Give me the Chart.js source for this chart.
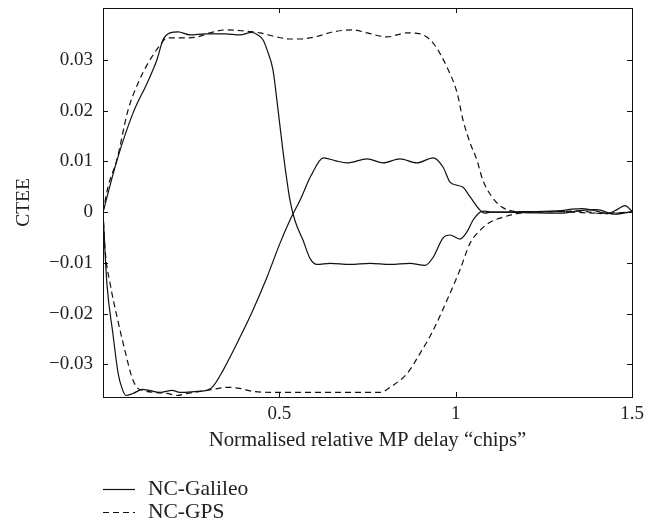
<!DOCTYPE html>
<html>
<head>
<meta charset="utf-8">
<script src="https://cdn.jsdelivr.net/npm/chart.js@4/dist/chart.umd.min.js"></script>
<style>
  html, body { margin: 0; padding: 0; background: #fff; }
  #wrap { width: 645px; height: 531px; position: relative; }
</style>
</head>
<body>
<div id="wrap"><canvas id="c"></canvas></div>
<script>
// ---- data ----
const xTicks = [0.5, 1, 1.5];
const yTicks = [-0.03, -0.02, -0.01, 0, 0.01, 0.02, 0.03];
const seriesNames = ['NC-Galileo', 'NC-GPS'];

// NC-Galileo, in-phase branch (starts positive)
const galUpX = [0, 0.040, 0.085, 0.125, 0.153, 0.170, 0.190, 0.213, 0.247, 0.289, 0.346, 0.388, 0.422, 0.439, 0.454, 0.465, 0.482, 0.493, 0.510, 0.530, 0.544, 0.567, 0.587, 0.607, 0.644, 0.700, 0.757, 0.814, 0.870, 0.913, 0.936, 0.964, 0.984, 1.012, 1.032, 1.049, 1.069, 1.083, 1.10, 1.2, 1.3, 1.33, 1.36, 1.40, 1.43, 1.46, 1.48, 1.5];
const galUpY = [0, 0.0103, 0.0195, 0.0254, 0.0300, 0.0339, 0.0353, 0.0355, 0.0349, 0.0351, 0.0351, 0.0349, 0.0354, 0.0349, 0.0339, 0.0320, 0.0280, 0.0221, 0.0122, 0.0024, -0.0016, -0.0055, -0.0091, -0.0103, -0.0101, -0.0103, -0.0101, -0.0103, -0.0101, -0.0105, -0.0089, -0.0051, -0.0045, -0.0053, -0.0039, -0.0016, 0, 0.0002, 0, 0.0001, 0.0003, 0.0006, 0.0007, 0.0002, -0.0003, 0.0006, 0.0013, 0.0002];

// NC-Galileo, anti-phase branch (starts negative)
const galLoX = [0, 0.011, 0.028, 0.043, 0.054, 0.065, 0.085, 0.113, 0.162, 0.196, 0.218, 0.267, 0.295, 0.312, 0.340, 0.388, 0.425, 0.465, 0.502, 0.530, 0.559, 0.590, 0.625, 0.660, 0.692, 0.749, 0.794, 0.842, 0.890, 0.936, 0.964, 0.984, 1.004, 1.021, 1.041, 1.069, 1.083, 1.10, 1.2, 1.3, 1.35, 1.40, 1.45, 1.5];
const galLoY = [0, -0.0140, -0.0239, -0.0318, -0.0347, -0.0361, -0.0357, -0.0349, -0.0355, -0.0351, -0.0355, -0.0353, -0.0351, -0.0343, -0.0312, -0.0247, -0.0193, -0.0128, -0.0061, -0.0016, 0.0024, 0.0072, 0.0107, 0.0101, 0.0097, 0.0105, 0.0097, 0.0105, 0.0097, 0.0107, 0.0089, 0.0059, 0.0053, 0.0049, 0.0030, 0.0004, -0.0002, 0, -0.0001, -0.0002, 0.0003, 0.0005, -0.0004, 0.0001];

// NC-GPS, in-phase branch
const gpsUpX = [0, 0.014, 0.040, 0.071, 0.100, 0.125, 0.162, 0.181, 0.210, 0.238, 0.267, 0.303, 0.352, 0.397, 0.445, 0.493, 0.530, 0.559, 0.601, 0.652, 0.709, 0.749, 0.805, 0.862, 0.899, 0.936, 0.975, 1.004, 1.021, 1.041, 1.060, 1.077, 1.103, 1.131, 1.162, 1.2, 1.3, 1.4, 1.5];
const gpsUpY = [0, 0.0049, 0.0105, 0.0201, 0.0255, 0.0290, 0.0329, 0.0343, 0.0343, 0.0343, 0.0345, 0.0353, 0.0359, 0.0357, 0.0353, 0.0345, 0.0341, 0.0341, 0.0345, 0.0355, 0.0359, 0.0353, 0.0345, 0.0353, 0.0351, 0.0333, 0.0286, 0.0235, 0.0181, 0.0136, 0.0103, 0.0063, 0.0030, 0.0010, 0.0002, 0, 0.0001, -0.0002, 0];

// NC-GPS, anti-phase branch
const gpsLoX = [0, 0.006, 0.020, 0.040, 0.062, 0.082, 0.096, 0.113, 0.147, 0.181, 0.210, 0.238, 0.275, 0.312, 0.352, 0.388, 0.425, 0.502, 0.615, 0.729, 0.785, 0.822, 0.862, 0.899, 0.936, 0.975, 1.012, 1.041, 1.069, 1.097, 1.134, 1.182, 1.24, 1.35, 1.42, 1.5];
const gpsLoY = [0, -0.0075, -0.0140, -0.0207, -0.0272, -0.0325, -0.0345, -0.0351, -0.0355, -0.0357, -0.0361, -0.0357, -0.0353, -0.0349, -0.0345, -0.0347, -0.0353, -0.0355, -0.0355, -0.0355, -0.0355, -0.0341, -0.0318, -0.0278, -0.0233, -0.0174, -0.0114, -0.0061, -0.0036, -0.0020, -0.0010, -0.0002, 0, 0.0002, -0.0003, 0];

const xMin = 0, xMax = 1.5;
const yMin = -0.0364, yMax = 0.0402;

// ---- build ----
const pts = (xs, ys) => xs.map((x, i) => ({ x: x, y: ys[i] }));
const FONT = "'Liberation Serif', 'Times New Roman', serif";
const TXT = '#222';
const dashGPS = [6, 4];

function ds(label, xs, ys, dash, inLegend) {
  return {
    label: label,
    data: pts(xs, ys),
    borderColor: '#111',
    borderWidth: 1.2,
    borderDash: dash,
    pointRadius: 0,
    fill: false,
    cubicInterpolationMode: 'monotone',
    inLegend: inLegend
  };
}

function noPad(s) {
  s.paddingTop = 0; s.paddingBottom = 0; s.paddingLeft = 0; s.paddingRight = 0;
}

const framePlugin = {
  id: 'frame',
  afterDatasetsDraw(chart) {
    const { ctx, chartArea: a, scales } = chart;
    ctx.save();
    ctx.strokeStyle = '#111';
    ctx.lineWidth = 1;
    ctx.strokeRect(Math.round(a.left) + 0.5, Math.round(a.top) + 0.5,
                   Math.round(a.right - a.left), Math.round(a.bottom - a.top));
    const L = 5;
    ctx.beginPath();
    xTicks.forEach(v => {
      const px = Math.round(scales.x.getPixelForValue(v)) + 0.5;
      ctx.moveTo(px, a.bottom); ctx.lineTo(px, a.bottom - L);
      ctx.moveTo(px, a.top); ctx.lineTo(px, a.top + L);
    });
    yTicks.forEach(v => {
      const py = Math.round(scales.y.getPixelForValue(v)) + 0.5;
      ctx.moveTo(a.left, py); ctx.lineTo(a.left + L, py);
      ctx.moveTo(a.right, py); ctx.lineTo(a.right - L, py);
    });
    ctx.stroke();
    ctx.restore();
  },
  afterDraw(chart) {
    const { ctx, chartArea: a } = chart;
    const items = chart.data.datasets.filter(d => d.inLegend);
    ctx.save();
    ctx.font = '21.5px ' + FONT;
    ctx.fillStyle = TXT;
    ctx.textBaseline = 'middle';
    items.forEach((d, i) => {
      const y = 489 + i * 23;
      ctx.strokeStyle = '#111';
      ctx.lineWidth = 1.2;
      ctx.setLineDash(d.borderDash || []);
      ctx.beginPath();
      ctx.moveTo(a.left, y + 0.5);
      ctx.lineTo(a.left + 32, y + 0.5);
      ctx.stroke();
      ctx.setLineDash([]);
      ctx.fillText(d.label, a.left + 45, y);
    });
    ctx.restore();
  }
};

new Chart(document.getElementById('c'), {
  type: 'line',
  data: {
    datasets: [
      ds(seriesNames[0], galUpX, galUpY, [], true),
      ds(seriesNames[0], galLoX, galLoY, [], false),
      ds(seriesNames[1], gpsUpX, gpsUpY, dashGPS, true),
      ds(seriesNames[1], gpsLoX, gpsLoY, dashGPS, false)
    ]
  },
  options: {
    responsive: true,
    maintainAspectRatio: false,
    animation: false,
    layout: { padding: { left: 0, top: 8, right: 13, bottom: 74 } },
    plugins: { legend: { display: false }, tooltip: { enabled: false } },
    scales: {
      x: {
        type: 'linear',
        min: xMin, max: xMax,
        grid: { display: false, drawTicks: false },
        border: { display: false },
        afterBuildTicks: s => { s.ticks = xTicks.map(v => ({ value: v })); },
        afterFit: s => { s.height = 60; noPad(s); },
        ticks: {
          color: TXT, padding: 6, maxRotation: 0,
          font: { family: FONT, size: 19 },
          callback: v => String(v)
        },
        title: {
          display: true, text: 'Normalised relative MP delay “chips”',
          color: TXT, font: { family: FONT, size: 20.8 }, padding: { top: 0, bottom: 4 }
        }
      },
      y: {
        type: 'linear',
        min: yMin, max: yMax,
        grid: { display: false, drawTicks: false },
        border: { display: false },
        afterBuildTicks: s => { s.ticks = yTicks.map(v => ({ value: v })); },
        afterFit: s => { s.width = 103; noPad(s); },
        ticks: {
          color: TXT, padding: 10,
          font: { family: FONT, size: 19 },
          callback: v => {
            const r = Math.round(v * 100) / 100;
            if (r === 0) return '0';
            return (r < 0 ? '\u2212' : '') + Math.abs(r).toFixed(2);
          }
        },
        title: {
          display: true, text: 'CTEE',
          color: TXT, font: { family: FONT, size: 19.5 }, padding: { top: 12, bottom: 0 }
        }
      }
    }
  },
  plugins: [framePlugin]
});
</script>
</body>
</html>
